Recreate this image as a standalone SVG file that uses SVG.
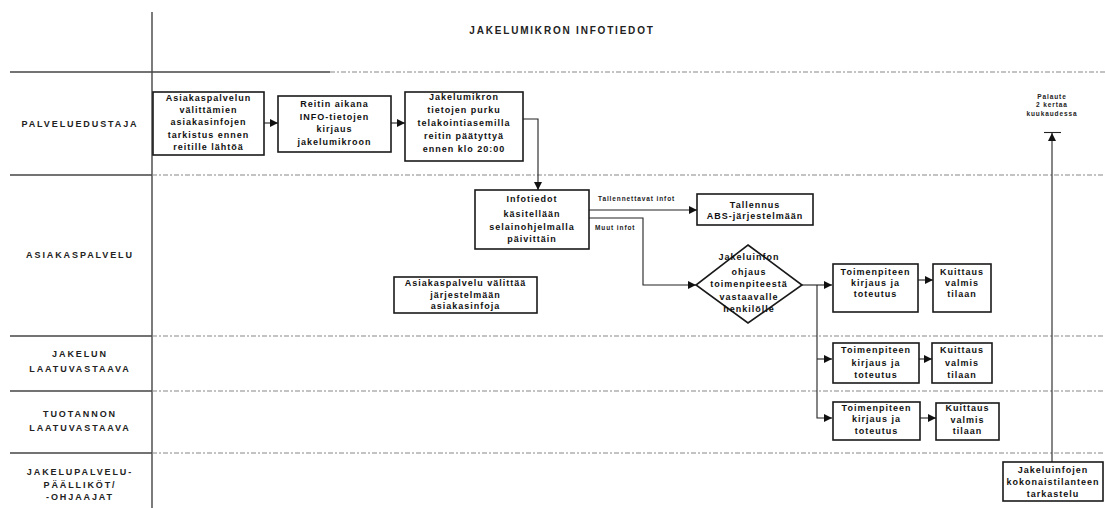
<svg xmlns="http://www.w3.org/2000/svg" width="1105" height="508" viewBox="0 0 1105 508">
  <style>
    .box { fill: #fff; stroke: #1a1a1a; stroke-width: 1.6; }
    .t { font-family: "Liberation Sans", Arial, sans-serif; font-weight: bold; font-size: 9px; letter-spacing: 1px; fill: #111; text-anchor: middle; }
    .lane { font-family: "Liberation Sans", Arial, sans-serif; font-weight: bold; font-size: 9px; letter-spacing: 1.9px; fill: #222; text-anchor: middle; }
    .small { font-family: "Liberation Sans", Arial, sans-serif; font-weight: bold; font-size: 6.5px; letter-spacing: 0.9px; fill: #222; }
    .title { font-family: "Liberation Sans", Arial, sans-serif; font-weight: bold; font-size: 10px; letter-spacing: 1.8px; fill: #222; text-anchor: middle; }
    .sep { stroke: #444; stroke-width: 1.4; }
    .sepd { stroke: #888; stroke-width: 1.2; stroke-dasharray: 5 2 2 2; }
    .con { fill: none; stroke: #222; stroke-width: 1.1; }
  </style>
  <defs>
    <marker id="arr" viewBox="0 0 8 8" markerWidth="8" markerHeight="8" refX="8" refY="4" orient="auto" markerUnits="userSpaceOnUse">
      <path d="M0,0 L8,4 L0,8 z" fill="#111"/>
    </marker>
  </defs>

  <rect width="1105" height="508" fill="#fff"/>

  <!-- swimlane frame -->
  <g id="lanes">
    <line class="sep" x1="152" y1="12" x2="152" y2="508"/>
    <line class="sep" x1="10" y1="72" x2="330" y2="72"/>
    <line class="sepd" x1="330" y1="72" x2="1105" y2="72"/>
    <line class="sep" x1="10" y1="175" x2="152" y2="175"/>
    <line class="sepd" x1="152" y1="175" x2="1105" y2="175"/>
    <line class="sep" x1="10" y1="336" x2="152" y2="336"/>
    <line class="sepd" x1="152" y1="336" x2="1105" y2="336"/>
    <line class="sep" x1="10" y1="391" x2="152" y2="391"/>
    <line class="sepd" x1="152" y1="391" x2="1105" y2="391"/>
    <line class="sep" x1="10" y1="453" x2="152" y2="453"/>
    <line class="sepd" x1="152" y1="453" x2="1105" y2="453"/>

    <text class="title" x="562" y="34">JAKELUMIKRON INFOTIEDOT</text>

    <text class="lane" x="80" y="127">PALVELUEDUSTAJA</text>
    <text class="lane" x="80" y="258">ASIAKASPALVELU</text>
    <text class="lane" x="80" y="357">JAKELUN</text>
    <text class="lane" x="80" y="372">LAATUVASTAAVA</text>
    <text class="lane" x="80" y="417">TUOTANNON</text>
    <text class="lane" x="80" y="431">LAATUVASTAAVA</text>
    <text class="lane" x="80" y="475">JAKELUPALVELU-</text>
    <text class="lane" x="80" y="488">PÄÄLLIKÖT/</text>
    <text class="lane" x="80" y="500">-OHJAAJAT</text>
  </g>

  <!-- connectors -->
  <g id="connectors">
    <path class="con" d="M264,123 H278" marker-end="url(#arr)"/>
    <path class="con" d="M391,123 H405" marker-end="url(#arr)"/>
    <path class="con" d="M523,119 H538 V190" marker-end="url(#arr)"/>
    <path class="con" d="M589,210 H697" marker-end="url(#arr)"/>
    <text class="small" x="598" y="201">Tallennettavat infot</text>
    <path class="con" d="M589,218 H643 V285 H696" marker-end="url(#arr)"/>
    <text class="small" x="595" y="230">Muut infot</text>
    <path class="con" d="M802,285 H832" marker-end="url(#arr)"/>
    <path class="con" d="M817,285 V418 H832" marker-end="url(#arr)"/>
    <path class="con" d="M817,359 H832" marker-end="url(#arr)"/>
    <path class="con" d="M918,280 H933" marker-end="url(#arr)"/>
    <path class="con" d="M919,359 H932" marker-end="url(#arr)"/>
    <path class="con" d="M920,418 H936" marker-end="url(#arr)"/>
    <path class="con" d="M1052,462 V133" marker-end="url(#arr)"/>
    <line class="con" x1="1044" y1="132.5" x2="1061" y2="132.5" stroke-width="1.4"/>
    <text class="small" x="1052" y="99" text-anchor="middle">Palaute</text>
    <text class="small" x="1052" y="107" text-anchor="middle">2 kertaa</text>
    <text class="small" x="1052" y="116" text-anchor="middle">kuukaudessa</text>
  </g>

  <!-- nodes -->
  <g id="n-tarkistus">
    <rect class="box" x="153" y="92" width="111" height="63"/>
    <text class="t" x="208.5" y="101">Asiakaspalvelun</text>
    <text class="t" x="208.5" y="113">välittämien</text>
    <text class="t" x="208.5" y="125">asiakasinfojen</text>
    <text class="t" x="208.5" y="138">tarkistus ennen</text>
    <text class="t" x="208.5" y="150">reitille lähtöä</text>
  </g>

  <g id="n-kirjaus">
    <rect class="box" x="278" y="96" width="113" height="56"/>
    <text class="t" x="334.5" y="107">Reitin aikana</text>
    <text class="t" x="334.5" y="120">INFO-tietojen</text>
    <text class="t" x="334.5" y="132">kirjaus</text>
    <text class="t" x="334.5" y="145">jakelumikroon</text>
  </g>

  <g id="n-purku">
    <rect class="box" x="405" y="92" width="118" height="69"/>
    <text class="t" x="464" y="100">Jakelumikron</text>
    <text class="t" x="464" y="113">tietojen purku</text>
    <text class="t" x="464" y="126">telakointiasemilla</text>
    <text class="t" x="464" y="139">reitin päätyttyä</text>
    <text class="t" x="464" y="152">ennen klo 20:00</text>
  </g>

  <g id="n-infotiedot">
    <rect class="box" x="475" y="190" width="114" height="59"/>
    <text class="t" x="532" y="202">Infotiedot</text>
    <text class="t" x="532" y="217">käsitellään</text>
    <text class="t" x="532" y="230">selainohjelmalla</text>
    <text class="t" x="532" y="242">päivittäin</text>
  </g>

  <g id="n-tallennus">
    <rect class="box" x="697" y="194" width="116" height="31"/>
    <text class="t" x="755" y="208">Tallennus</text>
    <text class="t" x="755" y="219">ABS-järjestelmään</text>
  </g>

  <g id="n-valittaa">
    <rect class="box" x="394" y="277" width="143" height="36"/>
    <text class="t" x="465.5" y="286">Asiakaspalvelu välittää</text>
    <text class="t" x="465.5" y="298">järjestelmään</text>
    <text class="t" x="465.5" y="309">asiakasinfoja</text>
  </g>

  <g id="n-ohjaus">
    <polygon class="box" points="748,245 802,285 748,323 696,285"/>
    <text class="t" x="749" y="260">Jakeluinfon</text>
    <text class="t" x="749" y="275">ohjaus</text>
    <text class="t" x="749" y="287">toimenpiteestä</text>
    <text class="t" x="749" y="300">vastaavalle</text>
    <text class="t" x="749" y="312">henkilölle</text>
  </g>

  <g id="n-toimenpide-1">
    <rect class="box" x="833" y="264" width="85" height="48"/>
    <text class="t" x="875.5" y="275">Toimenpiteen</text>
    <text class="t" x="875.5" y="286">kirjaus ja</text>
    <text class="t" x="875.5" y="297">toteutus</text>
  </g>
  <g id="n-kuittaus-1">
    <rect class="box" x="933" y="264" width="58" height="48"/>
    <text class="t" x="962" y="275">Kuittaus</text>
    <text class="t" x="962" y="286">valmis</text>
    <text class="t" x="962" y="297">tilaan</text>
  </g>

  <g id="n-toimenpide-2">
    <rect class="box" x="833" y="343" width="86" height="40"/>
    <text class="t" x="876" y="353">Toimenpiteen</text>
    <text class="t" x="876" y="366">kirjaus ja</text>
    <text class="t" x="876" y="378">toteutus</text>
  </g>
  <g id="n-kuittaus-2">
    <rect class="box" x="932" y="343" width="60" height="40"/>
    <text class="t" x="962" y="353">Kuittaus</text>
    <text class="t" x="962" y="366">valmis</text>
    <text class="t" x="962" y="378">tilaan</text>
  </g>

  <g id="n-toimenpide-3">
    <rect class="box" x="833" y="402" width="87" height="38"/>
    <text class="t" x="876.5" y="411">Toimenpiteen</text>
    <text class="t" x="876.5" y="422">kirjaus ja</text>
    <text class="t" x="876.5" y="434">toteutus</text>
  </g>
  <g id="n-kuittaus-3">
    <rect class="box" x="936" y="403" width="63" height="37"/>
    <text class="t" x="967.5" y="411">Kuittaus</text>
    <text class="t" x="967.5" y="423">valmis</text>
    <text class="t" x="967.5" y="434">tilaan</text>
  </g>

  <g id="n-tarkastelu">
    <rect class="box" x="1003" y="462" width="100" height="39"/>
    <text class="t" x="1053" y="473">Jakeluinfojen</text>
    <text class="t" x="1053" y="485">kokonaistilanteen</text>
    <text class="t" x="1053" y="497">tarkastelu</text>
  </g>
</svg>
